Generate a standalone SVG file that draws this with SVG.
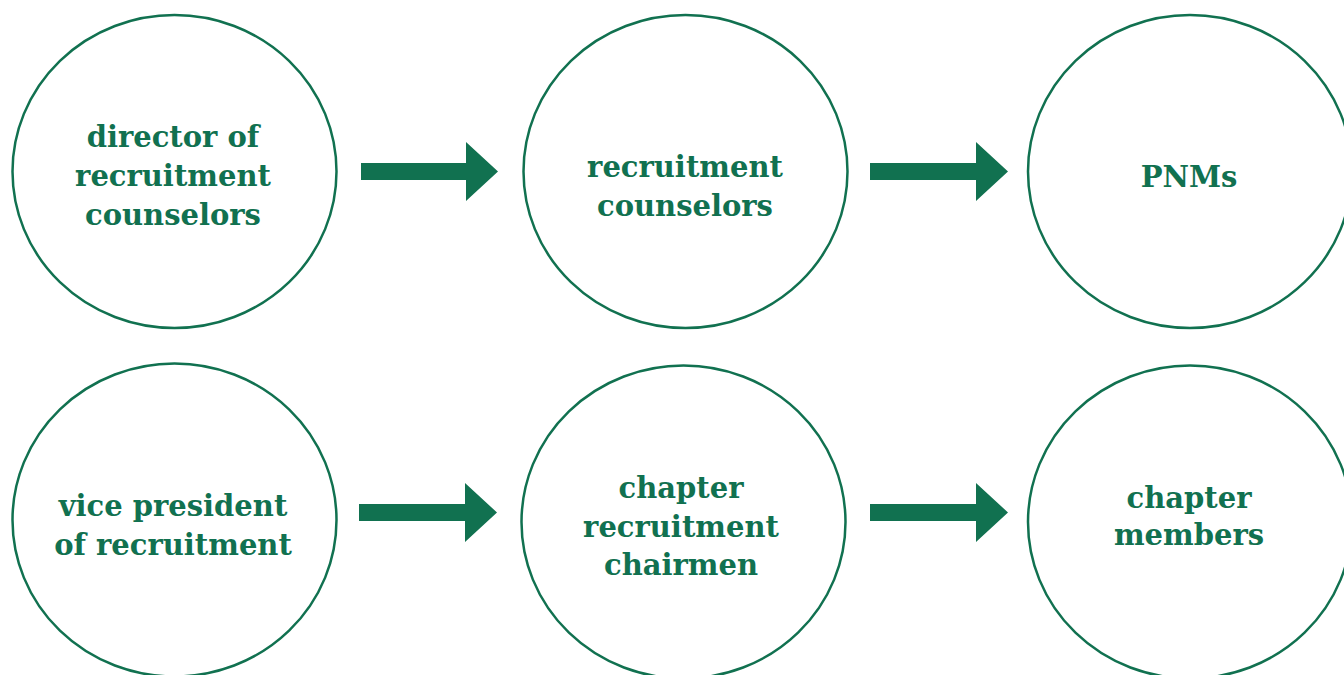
<svg xmlns="http://www.w3.org/2000/svg" width="1344" height="675" viewBox="0 0 1344 675">
<style>
.node{fill:#fff;stroke:#117150;stroke-width:2.5}
.lbl{fill:#117150;font-family:"DejaVu Serif","Liberation Serif",serif;font-weight:bold;font-size:29px;text-anchor:middle}
.arr{fill:#117150}
</style>
<rect width="1344" height="675" fill="#fff"/>
<g id="n1"><ellipse class="node" cx="174.5" cy="171.5" rx="162" ry="156.5"/>
<text class="lbl"><tspan x="173" y="147">director of</tspan><tspan x="173" y="186">recruitment</tspan><tspan x="173" y="225">counselors</tspan></text></g>
<g id="n2"><ellipse class="node" cx="685.5" cy="171.5" rx="162" ry="156.5"/>
<text class="lbl"><tspan x="685" y="177">recruitment</tspan><tspan x="685" y="216">counselors</tspan></text></g>
<g id="n3"><ellipse class="node" cx="1190" cy="171.5" rx="162" ry="156.5"/>
<text class="lbl"><tspan x="1189" y="187">PNMs</tspan></text></g>
<g id="n4"><ellipse class="node" cx="174.5" cy="520" rx="162" ry="156.5"/>
<text class="lbl"><tspan x="173" y="516">vice president</tspan><tspan x="173" y="555">of recruitment</tspan></text></g>
<g id="n5"><ellipse class="node" cx="683.5" cy="522" rx="162" ry="156.5"/>
<text class="lbl"><tspan x="681" y="498">chapter</tspan><tspan x="681" y="537">recruitment</tspan><tspan x="681" y="575">chairmen</tspan></text></g>
<g id="n6"><ellipse class="node" cx="1190" cy="522" rx="162" ry="156.5"/>
<text class="lbl"><tspan x="1189" y="508">chapter</tspan><tspan x="1189" y="545">members</tspan></text></g>
<g id="connectors">
<polygon class="arr" points="361,163 466,163 466,142 498,171.5 466,201 466,180 361,180"/>
<polygon class="arr" points="870,163 976,163 976,142 1008,171.5 976,201 976,180 870,180"/>
<polygon class="arr" points="359,504 465,504 465,483 497,512.5 465,542 465,521 359,521"/>
<polygon class="arr" points="870,504 976,504 976,483 1008,512.5 976,542 976,521 870,521"/>
</g>
</svg>
